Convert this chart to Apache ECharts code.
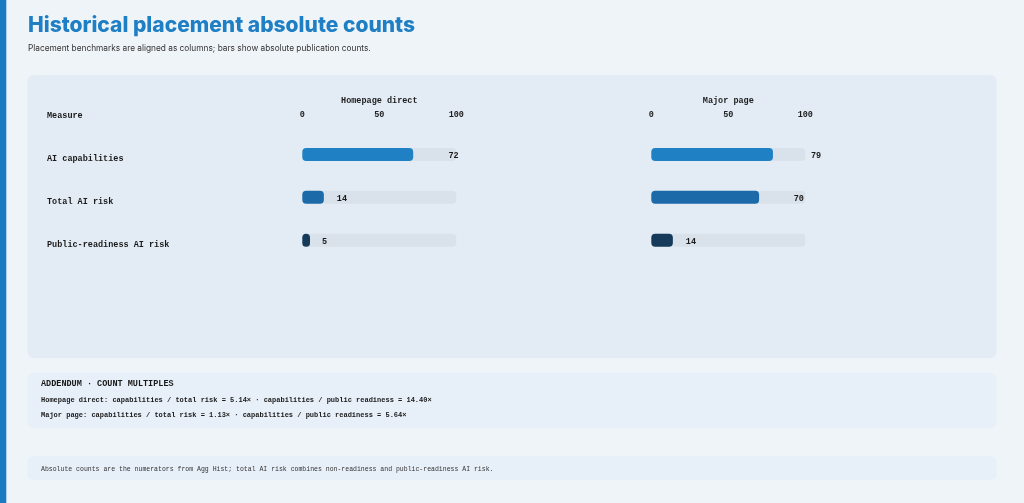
<!DOCTYPE html>
<html>
<head>
<meta charset="utf-8">
<script src="https://cdn.jsdelivr.net/npm/echarts@6/dist/echarts.min.js"></script>
<style>
html,body{margin:0;padding:0;background:#eff4f9;}
#chart{width:1024px;height:503px;}
</style>
</head>
<body>
<div id="chart"></div>
<script>
const measures = ['AI capabilities', 'Total AI risk', 'Public-readiness AI risk'];
const placements = ['Homepage direct', 'Major page'];
const homepageDirect = [72, 14, 5];
const majorPage = [79, 70, 14];
const tickValues = [0, 50, 100];
const barColors = ['#1f80c4', '#1c6aa8', '#163b5a'];

const mono = '"Liberation Mono", "DejaVu Sans Mono", monospace';
const sans = 'Inter, "Noto Sans", sans-serif';
const seriesValues = [homepageDirect, majorPage];
const gridLefts = [302.3, 651.3];

const fmt = v => v.toFixed(2) + '×';
const addendumLines = placements.map((p, i) => {
  const d = seriesValues[i];
  return p + ': capabilities / total risk = ' + fmt(d[0] / d[1]) +
    ' · capabilities / public readiness = ' + fmt(d[0] / d[2]);
});

const grids = [], xAxes = [], yAxes = [], series = [];
placements.forEach((p, i) => {
  grids.push({ left: gridLefts[i], width: 154, top: 133, height: 128.7 });
  xAxes.push({
    gridIndex: i, type: 'value', position: 'top',
    min: tickValues[0], max: tickValues[tickValues.length - 1],
    interval: tickValues[1] - tickValues[0],
    name: p, nameLocation: 'middle', nameGap: 28,
    nameTextStyle: { fontFamily: mono, fontWeight: 'bold', fontSize: 8.5, color: '#1e1e1e' },
    axisLabel: { fontFamily: mono, fontWeight: 'bold', fontSize: 8.5, color: '#1e1e1e', margin: 14 },
    axisLine: { show: false }, axisTick: { show: false }, splitLine: { show: false }
  });
  xAxes.push({ gridIndex: i, type: 'value', min: 0, max: 80, show: false });
  yAxes.push({
    gridIndex: i, type: 'category', data: measures, inverse: true,
    axisLine: { show: false }, axisTick: { show: false }, splitLine: { show: false },
    axisLabel: i === 0 ? {
      show: true, align: 'left', verticalAlign: 'top', margin: 255.3, fontFamily: mono, fontWeight: 'bold',
      fontSize: 8.5, lineHeight: 8.5, color: '#1a1a1a'
    } : { show: false }
  });
  series.push({
    type: 'bar', xAxisIndex: i * 2, yAxisIndex: i, barWidth: 13, barGap: '-100%',
    showBackground: true,
    backgroundStyle: { color: '#d9e1ea', borderRadius: 4 },
    itemStyle: { borderRadius: 4 },
    data: seriesValues[i].map((v, k) => ({ value: v, itemStyle: { color: barColors[k] } })),
    silent: true, z: 3
  });
  series.push({
    type: 'bar', xAxisIndex: i * 2 + 1, yAxisIndex: i, barWidth: 13, barGap: '-100%',
    itemStyle: { color: 'rgba(0,0,0,0)' },
    label: {
      show: true, position: 'right', distance: 12.7, align: 'center',
      fontFamily: mono, fontWeight: 'bold', fontSize: 8.5, color: '#1a1a1a',
      offset: [0, 1.5]
    },
    data: seriesValues[i], silent: true, z: 4
  });
});

const chart = echarts.init(document.getElementById('chart'), null, { renderer: 'canvas' });
chart.setOption({
  backgroundColor: '#eff4f9',
  animation: false,
  grid: grids, xAxis: xAxes, yAxis: yAxes, series: series,
  graphic: [
    { type: 'rect', shape: { x: 0, y: 0, width: 6.3, height: 503 }, style: { fill: '#1b7bc1' }, z: -10 },
    { type: 'rect', shape: { x: 27.5, y: 75, width: 969, height: 283, r: 6 }, style: { fill: '#e3ecf5' }, z: -10 },
    { type: 'rect', shape: { x: 27.5, y: 372.7, width: 969, height: 55.6, r: 6 }, style: { fill: '#e7eff8' }, z: -10 },
    { type: 'rect', shape: { x: 27.5, y: 456, width: 969, height: 24, r: 6 }, style: { fill: '#e7eff8' }, z: -10 },
    { type: 'text', x: 28, y: 26, style: { text: 'Historical placement absolute counts', font: '800 21px ' + sans, fill: '#1f7fc4', textVerticalAlign: 'middle' } },
    { type: 'text', x: 28, y: 48.5, style: { text: 'Placement benchmarks are aligned as columns; bars show absolute publication counts.', font: '400 8.3px ' + sans, fill: '#333', textVerticalAlign: 'middle' } },
    { type: 'text', x: 47, y: 115.7, style: { text: 'Measure', font: 'bold 8.5px ' + mono, fill: '#1a1a1a', textVerticalAlign: 'middle' } },
    { type: 'text', x: 41, y: 384.3, style: { text: 'ADDENDUM · COUNT MULTIPLES', font: 'bold 8.5px ' + mono, fill: '#1a1a1a', textVerticalAlign: 'middle' } },
    { type: 'text', x: 41, y: 400.7, style: { text: addendumLines[0], font: 'bold 7px ' + mono, fill: '#1a1a1a', textVerticalAlign: 'middle' } },
    { type: 'text', x: 41, y: 415.7, style: { text: addendumLines[1], font: 'bold 7px ' + mono, fill: '#1a1a1a', textVerticalAlign: 'middle' } },
    { type: 'text', x: 41, y: 469.3, style: { text: 'Absolute counts are the numerators from Agg Hist; total AI risk combines non-readiness and public-readiness AI risk.', font: '400 6.5px ' + mono, fill: '#333', textVerticalAlign: 'middle' } }
  ]
});
</script>
</body>
</html>
